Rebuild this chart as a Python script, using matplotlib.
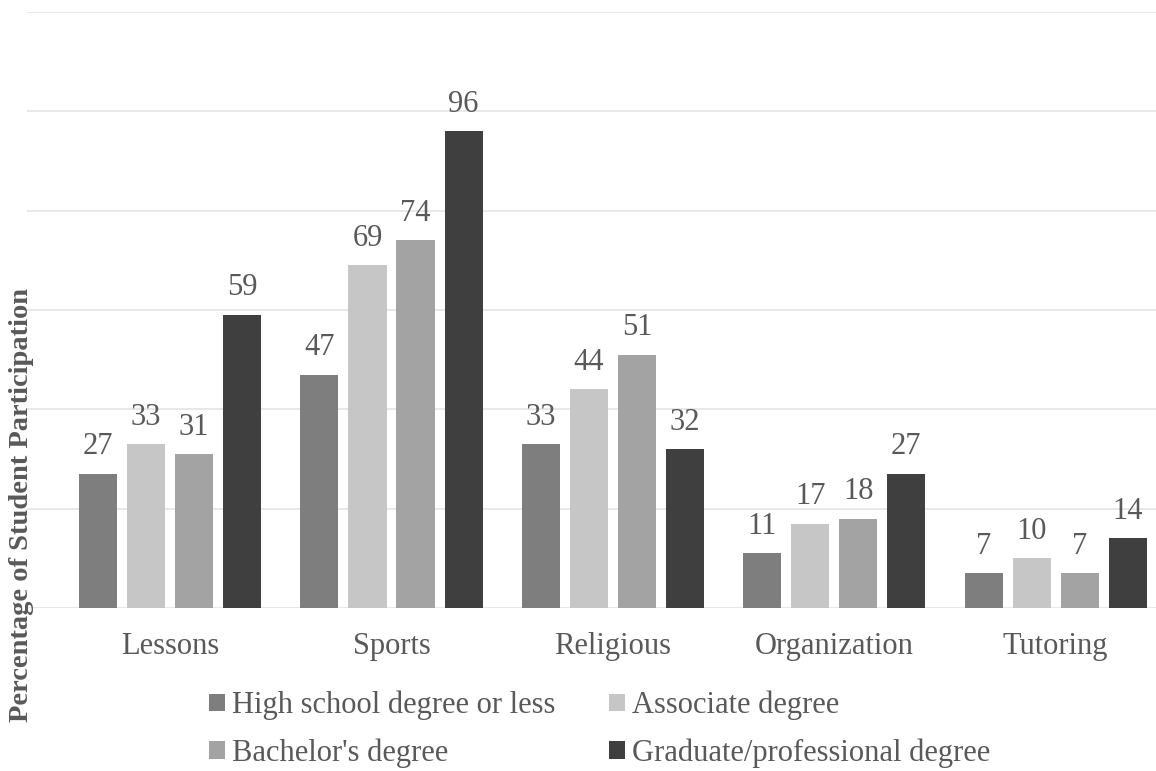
import numpy as np
import matplotlib
matplotlib.use("Agg")
import matplotlib.pyplot as plt

plt.rcParams['font.family'] = ['Liberation Serif', 'DejaVu Serif']

categories = ["Lessons", "Sports", "Religious", "Organization", "Tutoring"]
series = ["High school degree or less", "Associate degree",
          "Bachelor's degree", "Graduate/professional degree"]
high_school = [27, 47, 33, 11, 7]
associate = [33, 69, 44, 17, 10]
bachelor = [31, 74, 51, 18, 7]
graduate = [59, 96, 32, 27, 14]
values = [high_school, associate, bachelor, graduate]
colors = ["#7e7e7e", "#c6c6c6", "#a3a3a3", "#3f3f3f"]
text_col = "#595959"

fig = plt.figure(figsize=(11.56, 7.71), dpi=100)
ax = fig.add_axes([0.0234, 0.2114, 0.9766, 0.773])

x = np.arange(len(categories))
step = 0.217
width = 0.172
bars = []
for i, (vals, c) in enumerate(zip(values, colors)):
    b = ax.bar(x + (i - 1.5) * step, vals, width, color=c, label=series[i], zorder=3)
    ax.bar_label(b, padding=9, fontsize=22, color=text_col)
    bars.append(b)

ax.set_ylim(0, 120)
ax.set_xlim(-0.646, 4.453)
ax.set_yticks(np.arange(0, 121, 20))
ax.yaxis.grid(True, color="#e6e6e6", linewidth=1.3, zorder=0)
ax.tick_params(axis='y', left=False, labelleft=False)
ax.tick_params(axis='x', bottom=False, pad=14, labelsize=22, labelcolor=text_col)
ax.set_xticks(x)
ax.set_xticklabels(categories)
for s in ax.spines.values():
    s.set_visible(False)

fig.text(0.019, 0.345, "Percentage of Student Participation", rotation=90,
         ha='center', va='center', fontsize=20.5, fontweight='bold', color=text_col)

# row-wise order: HS, Associate / Bachelor, Graduate
order = [0, 2, 1, 3]
fig.legend([bars[i] for i in order], [series[i] for i in order], ncol=2,
           loc='center', bbox_to_anchor=(0.519, 0.054), frameon=False,
           fontsize=22, labelcolor=text_col, handlelength=0.5, handleheight=0.5,
           handletextpad=0.25, columnspacing=1.75, labelspacing=0.6)

fig.savefig("out.png", dpi=100)
